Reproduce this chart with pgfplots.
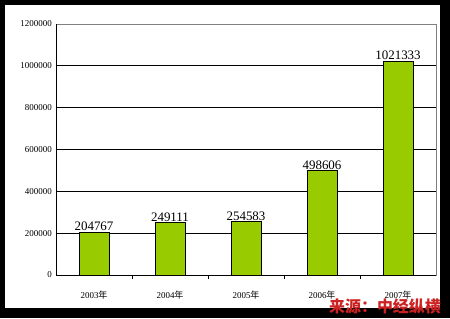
\documentclass[border=0pt]{standalone}
\usepackage{pgfplots}
\pgfplotsset{compat=1.18}
\usepackage{fontspec}
\setmainfont{Liberation Serif}
\newfontfamily\cjk{Noto Sans CJK SC}
\definecolor{barg}{RGB}{153,204,0}
\definecolor{srcred}{RGB}{204,34,34}
\begin{document}
\begin{tikzpicture}[x=1bp,y=1bp]
\fill[black] (0,0) rectangle (450,318);
\fill[white] (5,10) rectangle (440,313);
\begin{axis}[
  at={(56bp,43bp)}, anchor=south west,
  scale only axis, width=380bp, height=251bp,
  xmin=-0.5, xmax=4.5, ymin=0, ymax=1200000,
  ytick={0,200000,400000,600000,800000,1000000,1200000},
  scaled y ticks=false,
  /pgf/number format/assume math mode=true,
  yticklabel style={/pgf/number format/fixed, /pgf/number format/1000 sep={}, font=\fontsize{9}{9}\selectfont, inner sep=1bp, xshift=-3bp},
  ymajorgrids, grid style={black, line width=0.8bp},
  ytick style={draw=none},
  xtick={0,1,2,3,4},
  xtick pos=bottom,
  xticklabels={2003{\cjk 年},2004{\cjk 年},2005{\cjk 年},2006{\cjk 年},2007{\cjk 年}},
  xticklabel style={font=\fontsize{9}{9}\selectfont, yshift=-8bp},
  major x tick style={draw=none},
  minor xtick={0.5,1.5,2.5,3.5},
  minor tick length=4bp, tick align=inside,
  minor x tick style={black, line width=0.8bp},
  axis line style={gray, line width=0.8bp},
  clip=false,
  ybar, bar width=30bp,
  nodes near coords,
  nodes near coords style={font=\fontsize{13}{13}\selectfont, /pgf/number format/fixed, /pgf/number format/1000 sep={}, inner sep=1bp, text=black},
]
\addplot[fill=barg, draw=black, line width=0.8bp] coordinates {(0,204767) (1,249111) (2,254583) (3,498606) (4,1021333)};
\draw[gray, line width=0.8bp] (rel axis cs:0,1) -- (rel axis cs:1,1) -- (rel axis cs:1,0);
\draw[black, line width=0.8bp] (rel axis cs:0,1) -- (rel axis cs:0,0) -- (rel axis cs:1,0);
\end{axis}
\node[font=\cjk\bfseries\fontsize{16}{16}\selectfont, text=srcred, inner sep=0pt] at (385,12) {来源：中经纵横};
\pgfresetboundingbox
\useasboundingbox (0,0) rectangle (450,318);
\end{tikzpicture}
\end{document}
